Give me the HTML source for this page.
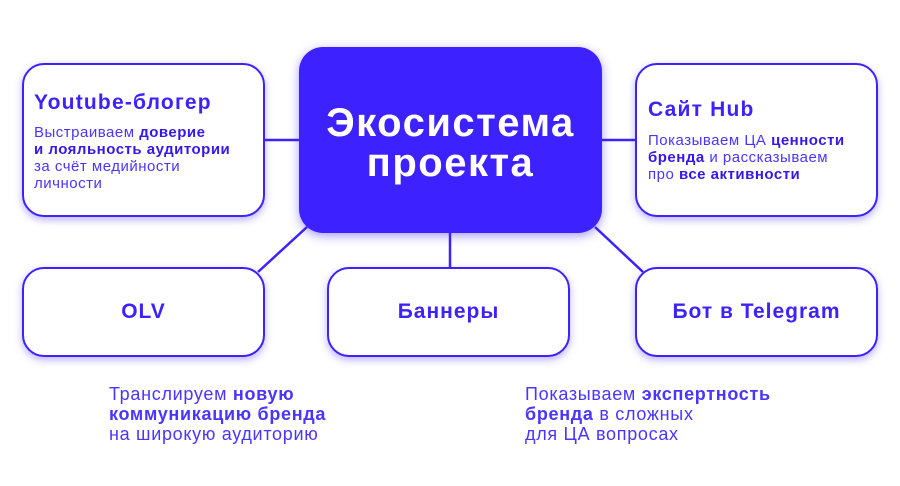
<!DOCTYPE html>
<html><head><meta charset="utf-8"><style>
body{margin:0;width:900px;height:486px;background:#fff;position:relative;overflow:hidden;font-family:"Liberation Sans",sans-serif;color:#3d22ff}
.box{position:absolute;box-sizing:border-box;border:2.5px solid #3d22ff;border-radius:22px;background:#fff;box-shadow:0 3px 8px rgba(61,34,255,.35)}
.c{position:absolute;left:299px;top:47px;width:303px;height:186px;background:#3d22ff;border-radius:24px;box-shadow:0 3px 10px rgba(61,34,255,.45);color:#fff;font-weight:bold;font-size:40px;line-height:40px;text-align:center;letter-spacing:1.5px}
.t{position:absolute;font-weight:bold;font-size:21px;letter-spacing:1.2px}
.p{position:absolute;font-size:15px;line-height:17px;color:#4a35ff;letter-spacing:.5px}
.p b{color:#3518e8}
.lab{display:flex;align-items:center;justify-content:center;font-weight:bold;font-size:21px;letter-spacing:1px}
.q{position:absolute;font-size:18px;line-height:20px;color:#4a35ff;letter-spacing:.7px}
</style></head><body>
<svg width="900" height="486" style="position:absolute;left:0;top:0">
<g stroke="#3d22ff" stroke-width="2.5">
<line x1="265" y1="140" x2="300" y2="140"/>
<line x1="601" y1="140" x2="636" y2="140"/>
<line x1="307" y1="227" x2="258" y2="272"/>
<line x1="450" y1="232" x2="450" y2="268"/>
<line x1="595" y1="227" x2="643" y2="272"/>
</g></svg>
<div class="c"><div style="position:absolute;left:0;right:0;top:56px">Экосистема<br>проекта</div></div>
<div class="box" style="left:22px;top:63px;width:243px;height:154px"></div>
<div class="t" style="left:34px;top:91px">Youtube-блогер</div>
<div class="p" style="left:34px;top:124px">Выстраиваем <b>доверие<br>и лояльность аудитории</b><br>за счёт медийности<br>личности</div>
<div class="box" style="left:635px;top:63px;width:243px;height:154px"></div>
<div class="t" style="left:648px;top:98px">Сайт Hub</div>
<div class="p" style="left:648px;top:132px">Показываем ЦА <b>ценности<br>бренда</b> и рассказываем<br>про <b>все активности</b></div>
<div class="box lab" style="left:22px;top:267px;width:243px;height:90px">OLV</div>
<div class="box lab" style="left:327px;top:267px;width:243px;height:90px">Баннеры</div>
<div class="box lab" style="left:635px;top:267px;width:243px;height:90px">Бот в Telegram</div>
<div class="q" style="left:109px;top:384px">Транслируем <b>новую<br>коммуникацию бренда</b><br>на широкую аудиторию</div>
<div class="q" style="left:525px;top:384px">Показываем <b>экспертность<br>бренда</b> в сложных<br>для ЦА вопросах</div>
</body></html>
